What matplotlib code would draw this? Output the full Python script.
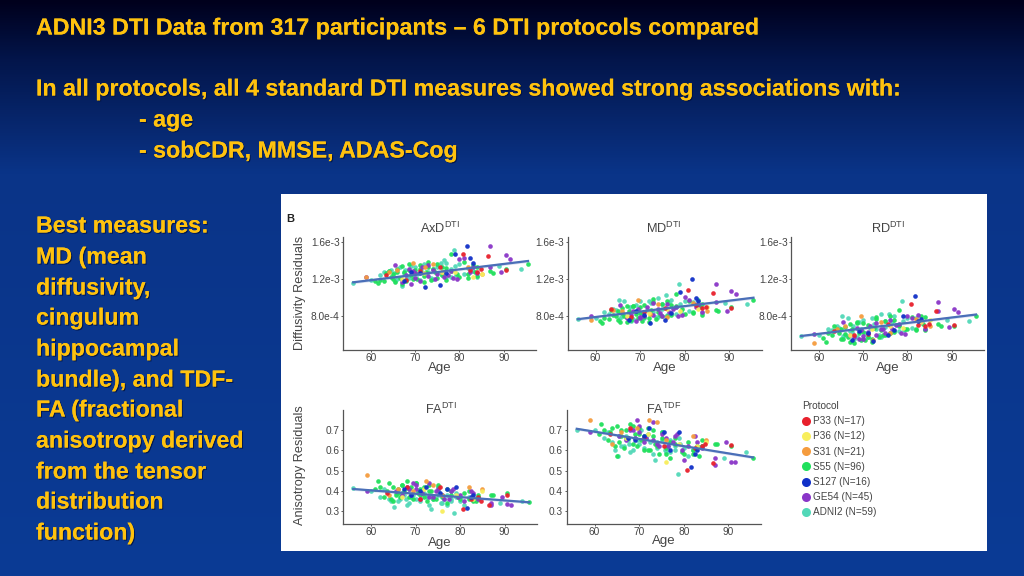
import numpy as np
import matplotlib
matplotlib.use('Agg')
from matplotlib import pyplot as plt
from matplotlib import patheffects
from matplotlib.colors import LinearSegmentedColormap

W, H = 1024, 576

head_lines = ['ADNI3 DTI Data from 317 participants \u2013 6 DTI protocols compared',
              'In all protocols, all 4 standard DTI measures showed strong associations with:']
sub_lines = ['- age', '- sobCDR, MMSE, ADAS-Cog']
side_lines = ['Best measures:', 'MD (mean', 'diffusivity,', 'cingulum', 'hippocampal', 'bundle), and TDF-',
              'FA (fractional', 'anisotropy derived', 'from the tensor', 'distribution', 'function)']

protocols = ['P33 (N=17)', 'P36 (N=12)', 'S31 (N=21)', 'S55 (N=96)', 'S127 (N=16)', 'GE54 (N=45)', 'ADNI2 (N=59)']
colors = ['#e8202c', '#f8ee5c', '#f59c3e', '#20e05c', '#1030c8', '#8a36c8', '#52d8b8']

# per protocol: age, then AxD / MD / RD (units of 1e-3), FA DTI, FA TDF
age = [
    [63.5, 68, 71, 75.5, 80.7, 82.5, 84, 84.8, 86.5, 90.5],
    [67, 72, 76, 79, 83, 85],
    [59, 64, 66, 69.5, 72.3, 74, 76, 82, 85],
    [61, 61.5, 62, 63, 63.5, 64.5, 65, 65.5, 66, 66.5, 67, 67.5, 68, 68.5, 69, 70, 70.5, 71, 72, 73, 73.5, 74.5,
     75, 76, 77, 78, 79.5, 81, 82, 83.5, 84, 87, 87.5, 90.5, 95.5,
     64, 65, 66, 67, 68.5, 69.5, 70, 71, 72, 72.5, 73, 74, 75, 76, 77, 78, 80, 82, 83, 84],
    [67.5, 69, 71, 72.3, 75.5, 77, 79, 81.6, 82.5, 83],
    [59, 65.5, 67, 68, 69, 69.5, 70, 71, 73, 74.5, 76, 77.5, 78.5, 80, 81, 82.5, 84, 87, 87, 89.5, 90.5, 91.5,
     68.5, 70, 71.5, 73, 74, 75, 76.5, 78, 79.5, 83],
    [56, 60, 62, 64, 65.2, 66, 67, 67.8, 68.5, 69.5, 70, 71.5, 72.5, 73.5, 74, 75, 75.8, 76.5, 77, 78, 78.7, 79.2,
     80, 83, 89, 94,
     63, 64.5, 65.5, 66.5, 67.5, 68, 69, 70.5, 71, 72, 73, 74, 75, 76, 77, 78, 79, 81, 82, 84],
]
axd = [
    [1.24, 1.19, 1.29, 1.33, 1.47, 1.30, 1.28, 1.31, 1.45, 1.30],
    [1.20, 1.26, 1.28, 1.27, 1.22, 1.25],
    [1.22, 1.27, 1.30, 1.37, 1.33, 1.36, 1.28, 1.33, 1.25],
    [1.18, 1.16, 1.19, 1.18, 1.26, 1.22, 1.25, 1.17, 1.31, 1.21, 1.34, 1.28, 1.18, 1.36, 1.24, 1.30, 1.20, 1.35, 1.23,
     1.33, 1.19, 1.27, 1.36, 1.24, 1.32, 1.47, 1.25, 1.38, 1.25, 1.28, 1.33, 1.29, 1.26, 1.31, 1.36,
     1.29, 1.20, 1.27, 1.15, 1.30, 1.20, 1.26, 1.31, 1.17, 1.28, 1.38, 1.31, 1.21, 1.33, 1.19, 1.29, 1.22, 1.21, 1.35, 1.23],
    [1.18, 1.28, 1.26, 1.11, 1.14, 1.26, 1.47, 1.55, 1.42, 1.37],
    [1.22, 1.35, 1.17, 1.24, 1.15, 1.29, 1.21, 1.18, 1.35, 1.20, 1.27, 1.24, 1.21, 1.41, 1.43, 1.28, 1.26, 1.55, 1.33,
     1.27, 1.46, 1.41,
     1.31, 1.26, 1.33, 1.23, 1.30, 1.25, 1.22, 1.29, 1.20, 1.33],
    [1.16, 1.19, 1.24, 1.29, 1.26, 1.20, 1.12, 1.30, 1.21, 1.24, 1.33, 1.28, 1.35, 1.21, 1.31, 1.26, 1.37, 1.40, 1.22,
     1.31, 1.51, 1.24, 1.36, 1.29, 1.34, 1.31,
     1.27, 1.30, 1.18, 1.33, 1.26, 1.20, 1.34, 1.25, 1.19, 1.36, 1.27, 1.20, 1.33, 1.24, 1.37, 1.22, 1.34, 1.25, 1.32, 1.22],
]
md = [
    [0.88, 0.79, 0.85, 0.89, 1.08, 0.92, 0.89, 0.90, 1.05, 0.89],
    [0.80, 0.84, 0.88, 0.86, 0.88, 0.90],
    [0.76, 0.87, 0.86, 0.98, 0.83, 0.93, 0.79, 0.94, 0.86],
    [0.75, 0.73, 0.78, 0.77, 0.87, 0.80, 0.86, 0.74, 0.84, 0.80, 0.91, 0.86, 0.76, 0.91, 0.83, 0.90, 0.75, 0.92, 0.78,
     0.95, 0.77, 0.82, 0.93, 0.80, 0.92, 1.04, 0.88, 0.96, 0.84, 0.90, 0.93, 0.87, 0.86, 0.90, 0.98,
     0.82, 0.76, 0.89, 0.74, 0.91, 0.78, 0.84, 0.79, 0.74, 0.87, 0.99, 0.85, 0.80, 0.97, 0.82, 0.91, 0.83, 0.85, 0.98, 0.82],
    [0.76, 0.86, 0.81, 0.73, 0.76, 0.84, 1.06, 1.20, 1.00, 0.96],
    [0.80, 0.92, 0.78, 0.82, 0.75, 0.88, 0.78, 0.80, 0.94, 0.84, 0.93, 0.88, 0.80, 1.01, 0.98, 0.90, 0.85, 1.15, 0.95,
     0.86, 1.07, 1.04,
     0.86, 0.79, 0.90, 0.82, 0.88, 0.80, 0.85, 0.90, 0.81, 0.92],
    [0.77, 0.78, 0.85, 0.88, 0.98, 0.80, 0.79, 0.90, 0.77, 0.86, 0.96, 0.87, 0.94, 0.79, 1.00, 0.88, 1.03, 0.95, 0.83,
     0.90, 1.15, 0.85, 0.97, 0.92, 0.94, 0.93,
     0.83, 0.87, 0.78, 0.96, 0.84, 0.75, 0.92, 0.82, 0.78, 0.97, 0.85, 0.79, 0.93, 0.82, 0.98, 0.83, 0.93, 0.86, 0.95, 0.84],
]
rd = [
    [0.64, 0.60, 0.61, 0.72, 0.93, 0.71, 0.70, 0.72, 0.86, 0.71],
    [0.60, 0.66, 0.70, 0.68, 0.74, 0.76],
    [0.52, 0.67, 0.70, 0.80, 0.55, 0.74, 0.62, 0.77, 0.70],
    [0.57, 0.53, 0.62, 0.60, 0.70, 0.62, 0.67, 0.56, 0.61, 0.58, 0.72, 0.66, 0.52, 0.73, 0.62, 0.73, 0.55, 0.71, 0.56,
     0.79, 0.58, 0.60, 0.75, 0.62, 0.76, 0.87, 0.66, 0.79, 0.67, 0.72, 0.79, 0.72, 0.70, 0.70, 0.80,
     0.66, 0.56, 0.69, 0.53, 0.74, 0.55, 0.63, 0.58, 0.53, 0.68, 0.77, 0.65, 0.60, 0.80, 0.63, 0.70, 0.66, 0.65, 0.80, 0.65],
    [0.55, 0.64, 0.62, 0.54, 0.60, 0.65, 0.80, 1.02, 0.75, 0.77],
    [0.61, 0.74, 0.60, 0.58, 0.56, 0.65, 0.59, 0.63, 0.73, 0.66, 0.76, 0.71, 0.62, 0.80, 0.78, 0.82, 0.66, 0.95, 0.86,
     0.69, 0.88, 0.85,
     0.68, 0.56, 0.70, 0.60, 0.67, 0.62, 0.66, 0.72, 0.61, 0.74],
    [0.59, 0.60, 0.66, 0.70, 0.80, 0.60, 0.64, 0.70, 0.58, 0.67, 0.76, 0.68, 0.72, 0.60, 0.83, 0.69, 0.83, 0.74, 0.64,
     0.71, 0.97, 0.65, 0.78, 0.74, 0.76, 0.75,
     0.65, 0.68, 0.59, 0.78, 0.63, 0.56, 0.74, 0.62, 0.58, 0.78, 0.66, 0.58, 0.75, 0.62, 0.80, 0.64, 0.75, 0.68, 0.78, 0.66],
]
fa = [
    [0.39, 0.42, 0.36, 0.42, 0.31, 0.36, 0.37, 0.35, 0.33, 0.38],
    [0.37, 0.41, 0.30, 0.38, 0.36, 0.40],
    [0.48, 0.38, 0.41, 0.40, 0.45, 0.43, 0.38, 0.42, 0.41],
    [0.41, 0.45, 0.42, 0.37, 0.40, 0.36, 0.42, 0.38, 0.41, 0.37, 0.43, 0.40, 0.45, 0.37, 0.42, 0.44, 0.39, 0.41, 0.37,
     0.43, 0.40, 0.36, 0.42, 0.38, 0.34, 0.40, 0.37, 0.39, 0.36, 0.35, 0.37, 0.38, 0.38, 0.39, 0.345,
     0.44, 0.35, 0.39, 0.43, 0.41, 0.36, 0.44, 0.38, 0.42, 0.35, 0.40, 0.36, 0.43, 0.37, 0.41, 0.38, 0.36, 0.40, 0.35, 0.38],
    [0.41, 0.38, 0.40, 0.42, 0.39, 0.41, 0.42, 0.315, 0.37, 0.38],
    [0.40, 0.40, 0.38, 0.42, 0.38, 0.44, 0.41, 0.36, 0.37, 0.40, 0.38, 0.36, 0.41, 0.38, 0.35, 0.40, 0.36, 0.33, 0.34,
     0.37, 0.335, 0.33,
     0.41, 0.43, 0.39, 0.44, 0.37, 0.41, 0.36, 0.40, 0.37, 0.39],
    [0.415, 0.40, 0.37, 0.36, 0.32, 0.35, 0.39, 0.36, 0.34, 0.38, 0.36, 0.39, 0.37, 0.31, 0.36, 0.38, 0.34, 0.36, 0.33,
     0.35, 0.29, 0.37, 0.35, 0.36, 0.34, 0.35,
     0.41, 0.35, 0.39, 0.36, 0.38, 0.33, 0.37, 0.40, 0.35, 0.39, 0.33, 0.37, 0.40, 0.34, 0.38, 0.36, 0.39, 0.33, 0.37, 0.36],
]
fatdf = [
    [0.68, 0.71, 0.66, 0.62, 0.505, 0.61, 0.62, 0.63, 0.535, 0.625],
    [0.66, 0.68, 0.54, 0.63, 0.62, 0.64],
    [0.75, 0.63, 0.69, 0.71, 0.75, 0.74, 0.65, 0.67, 0.65],
    [0.68, 0.73, 0.70, 0.65, 0.69, 0.62, 0.72, 0.64, 0.67, 0.61, 0.70, 0.66, 0.73, 0.63, 0.68, 0.71, 0.65, 0.67, 0.60,
     0.70, 0.63, 0.58, 0.66, 0.61, 0.56, 0.63, 0.59, 0.64, 0.58, 0.57, 0.62, 0.63, 0.63, 0.62, 0.56,
     0.71, 0.57, 0.70, 0.66, 0.72, 0.62, 0.68, 0.60, 0.71, 0.60, 0.67, 0.62, 0.69, 0.58, 0.64, 0.66, 0.58, 0.60, 0.62, 0.65],
    [0.66, 0.65, 0.67, 0.71, 0.69, 0.60, 0.69, 0.52, 0.58, 0.60],
    [0.69, 0.67, 0.65, 0.70, 0.66, 0.75, 0.69, 0.64, 0.65, 0.62, 0.66, 0.64, 0.68, 0.55, 0.62, 0.67, 0.61, 0.56, 0.53,
     0.64, 0.54, 0.54,
     0.70, 0.72, 0.66, 0.74, 0.63, 0.68, 0.62, 0.67, 0.60, 0.64],
    [0.70, 0.70, 0.66, 0.64, 0.57, 0.62, 0.67, 0.63, 0.60, 0.65, 0.63, 0.66, 0.64, 0.55, 0.61, 0.65, 0.60, 0.62, 0.59,
     0.60, 0.485, 0.63, 0.61, 0.62, 0.56, 0.59,
     0.69, 0.60, 0.67, 0.62, 0.65, 0.59, 0.66, 0.70, 0.61, 0.68, 0.58, 0.64, 0.69, 0.59, 0.65, 0.62, 0.66, 0.57, 0.60, 0.62],
]

# regression lines read at the two ends
fit_age = [56, 95.5]
fit_axd = [1.165, 1.393]
fit_md = [0.77, 1.00]
fit_rd = [0.59, 0.82]
fit_fa = [0.41, 0.345]
fit_fatdf = [0.705, 0.565]

diff_ticks = [0.8, 1.2, 1.6]
diff_labels = ['8.0e-4', '1.2e-3', '1.6e-3']
fa_ticks = [0.3, 0.4, 0.5, 0.6, 0.7]
fa_labels = ['0.3', '0.4', '0.5', '0.6', '0.7']
age_ticks = [60, 70, 80, 90]

plt.rcParams['font.family'] = ['Liberation Sans', 'DejaVu Sans']
plt.rcParams['mathtext.default'] = 'regular'
gray = '#444444'
draw_order = [6, 3, 5, 2, 1, 0, 4]


def px_axes(fig, left, top, right, bottom):
    return fig.add_axes([left / W, 1 - bottom / H, (right - left) / W, (bottom - top) / H])


def panel(fig, box, values, fit, title, title_xy, age_y, ylim, ticks, labels, ylabel=None):
    ax = px_axes(fig, *box)
    for i in draw_order:
        ax.scatter(age[i], values[i], s=11, color=colors[i], linewidths=0, alpha=0.95, zorder=2)
    band = 0.012 * (ylim[1] - ylim[0])
    ax.plot(fit_age, fit, color='#4a6fb8', lw=1.6, zorder=3)
    ax.fill_between(fit_age, np.array(fit) - band, np.array(fit) + band, color='#4a6fb8', alpha=0.2, lw=0, zorder=3)
    ax.set_xlim(53.7, 97.3)
    ax.set_ylim(*ylim)
    ax.set_xticks(age_ticks)
    ax.set_yticks(ticks)
    ax.set_yticklabels(labels)
    ax.tick_params(labelsize=7.3, colors=gray, length=1.5, width=0.6, pad=1)
    for s in ['top', 'right']:
        ax.spines[s].set_visible(False)
    for s in ['left', 'bottom']:
        ax.spines[s].set_color('#555555')
        ax.spines[s].set_linewidth(0.9)
    ax.patch.set_alpha(0)
    fig.text(title_xy[0] / W, 1 - title_xy[1] / H, title, fontsize=9.2, color=gray, ha='center', va='center')
    fig.text((box[0] + box[2]) / 2 / W, 1 - age_y / H, 'Age', fontsize=9.5, color=gray, ha='center', va='center')
    if ylabel:
        fig.text(300 / W, 1 - ylabel[1] / H, ylabel[0], fontsize=9.2, color=gray, rotation=90,
                 ha='center', va='center')
    return ax


def main():
    fig = plt.figure(figsize=(W / 100, H / 100), dpi=100)

    # slide background
    bg = fig.add_axes([0, 0, 1, 1])
    cmap = LinearSegmentedColormap.from_list('slide', [(0, '#00001c'), (0.1, '#03154a'), (0.3, '#0a3488'), (1, '#0b3b95')])
    bg.imshow(np.linspace(0, 1, 256).reshape(-1, 1), cmap=cmap, aspect='auto', extent=[0, W, H, 0])
    bg.set_xlim(0, W)
    bg.set_ylim(H, 0)
    bg.axis('off')
    bg.add_patch(plt.Rectangle((281, 194), 706, 357, color='white', lw=0))

    shadow = [patheffects.withSimplePatchShadow(offset=(0.8, -0.8), shadow_rgbFace='#001040', alpha=0.8),
              patheffects.Normal()]
    yellow = '#ffc20e'

    def slide_text(x, y, s):
        bg.text(x, y, s, color=yellow, fontsize=16.7, fontweight='bold', va='center', ha='left', path_effects=shadow)

    slide_text(36, 28, head_lines[0])
    slide_text(36, 89, head_lines[1])
    slide_text(139, 120, sub_lines[0])
    slide_text(139, 151, sub_lines[1])
    side_y = [226, 257, 288, 318, 349, 380, 410, 441, 472, 502, 533]
    for y, s in zip(side_y, side_lines):
        slide_text(36, y, s)

    bg.text(286, 219, 'B', fontsize=8, fontweight='bold', color='#222222', va='center')

    diff_ylim = (0.44, 1.65)
    fa_ylim = (0.241, 0.797)
    panel(fig, (343, 237, 536, 350), axd, fit_axd, r'AxD$^{DTI}$', (440, 228), 368, diff_ylim, diff_ticks, diff_labels,
          ('Diffusivity Residuals', 293))
    panel(fig, (567.5, 237, 761.5, 350), md, fit_md, r'MD$^{DTI}$', (664, 228), 368, diff_ylim, diff_ticks, diff_labels)
    panel(fig, (791, 237, 984, 350), rd, fit_rd, r'RD$^{DTI}$', (888, 228), 368, diff_ylim, diff_ticks, diff_labels)
    panel(fig, (343, 410, 537, 523.5), fa, fit_fa, r'FA$^{DTI}$', (441, 409), 543, fa_ylim, fa_ticks, fa_labels,
          ('Anisotropy Residuals', 465))
    panel(fig, (566.5, 410, 761, 523.5), fatdf, fit_fatdf, r'FA$^{TDF}$', (664, 409), 541, fa_ylim, fa_ticks, fa_labels)

    # legend, one dot and label per protocol
    handles = [plt.Line2D([], [], ls='', marker='o', ms=6.5, color=c, mew=0) for c in colors]
    leg = fig.legend(handles, protocols, title='Protocol', loc='upper left', bbox_to_anchor=(797 / W, 1 - 396 / H),
                     frameon=False, fontsize=7.2, title_fontsize=7.3, labelspacing=0.52, handletextpad=0.3,
                     handlelength=0.8, borderpad=0, labelcolor=gray)
    leg.get_title().set_color(gray)
    leg._legend_box.align = 'left'

    fig.savefig('out.png', dpi=100)


if __name__ == '__main__':
    main()
